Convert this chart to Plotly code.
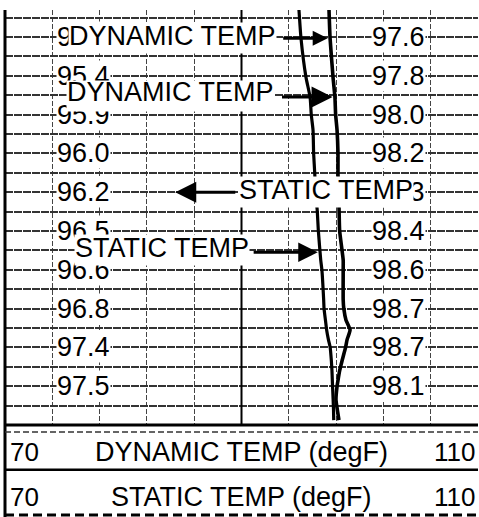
import plotly.graph_objects as go

# ---------------- data ----------------
# depth in grid divisions (increasing downward)
depth = [-0.39, 1.06, 3.07, 4.1, 5.0, 5.8, 7.0, 8.1, 9.0, 9.9, 11.0, 12.5, 13.0,
         14.56, 15.0, 15.6, 16.1, 16.6, 17.0, 17.7, 18.2, 18.7, 19.0, 19.7, 20.2, 20.75]
static_temp = [94.86, 95.03, 95.45, 95.80, 95.90, 96.05, 96.10, 96.20, 96.25, 96.40, 96.50, 96.70, 96.80,
               96.95, 96.98, 97.10, 97.20, 97.35, 97.50, 97.60, 97.65, 97.68, 97.70, 97.75, 97.78, 97.80]
dynamic_temp = [97.40, 97.49, 97.74, 97.90, 97.96, 98.08, 98.16, 98.16, 98.20, 98.25, 98.30, 98.60, 98.60,
                98.60, 98.65, 98.84, 99.18, 98.93, 98.80, 98.50, 98.30, 98.16, 98.08, 97.99, 98.10, 98.24]

label_depths = [1, 3, 5, 7, 9, 11, 13, 15, 17, 19]
left_labels = ["95.0", "95.4", "95.9", "96.0", "96.2", "96.5", "96.6", "96.8", "97.4", "97.5"]
right_labels = ["97.6", "97.8", "98.0", "98.2", "98.3", "98.4", "98.6", "98.7", "98.7", "98.1"]

scale_min, scale_max = 70, 110
header_tracks = ["DYNAMIC TEMP (degF)", "STATIC TEMP (degF)"]

FONT = "Liberation Sans, Arial, sans-serif"
FS = 27

def dval(series, d):
    # value of a read series at depth d (for arrow tips)
    for i in range(len(depth) - 1):
        if depth[i] <= d <= depth[i + 1]:
            t = (d - depth[i]) / (depth[i + 1] - depth[i])
            return series[i] + t * (series[i + 1] - series[i])
    return series[-1]

fig = go.Figure()
fig.add_trace(go.Scatter(x=static_temp, y=depth, mode="lines",
                         line=dict(color="black", width=3.2, shape="spline", smoothing=0.5),
                         hoverinfo="skip", showlegend=False))
fig.add_trace(go.Scatter(x=dynamic_temp, y=depth, mode="lines",
                         line=dict(color="black", width=3.6, shape="spline", smoothing=0.5),
                         hoverinfo="skip", showlegend=False))

ann = []
LX, RX = 76.6, 103.3
for d, lt, rt in zip(label_depths, left_labels, right_labels):
    for xx, tt in ((LX, lt), (RX, rt)):
        ann.append(dict(x=xx, y=d, xref="x", yref="y", text=tt, showarrow=False,
                        font=dict(family=FONT, size=FS, color="black"),
                        bgcolor="white", borderpad=0, xanchor="center", yanchor="middle"))

# (text, x, depth of text centre, mask shift in px)
callouts = [
    ("DYNAMIC TEMP", 75.35, 0.95, -2),
    ("DYNAMIC TEMP", 75.20, 3.85, -4),
    ("STATIC TEMP", 89.70, 8.89, -2),
    ("STATIC TEMP", 75.83, 11.88, -2),
]
# white masks (slightly lower than the text) first, then the texts themselves
for t, xx, d, sh in callouts:
    ann.append(dict(x=xx, y=d, xref="x", yref="y", text=t, showarrow=False,
                    font=dict(family=FONT, size=FS, color="white"),
                    bgcolor="white", borderpad=0, xanchor="left", yanchor="middle", yshift=sh))
for t, xx, d, sh in callouts:
    ann.append(dict(x=xx, y=d, xref="x", yref="y", text=t, showarrow=False,
                    font=dict(family=FONT, size=FS, color="black"),
                    borderpad=0, xanchor="left", yanchor="middle"))

# arrows: (tail_x, depth, tip_x, size)
arrows = [
    (93.4, 1.06, dval(dynamic_temp, 1.06) - 0.2, 1.0),
    (93.3, 4.1, dval(dynamic_temp, 4.1) - 0.2, 1.4),
    (89.6, 9.0, 84.4, 1.4),
    (90.9, 12.1, dval(static_temp, 12.1) - 0.2, 1.3),
]
for ax_, d, tip, sz in arrows:
    ann.append(dict(x=tip, y=d, ax=ax_, ay=d, xref="x", yref="y", axref="x", ayref="y",
                    text="", showarrow=True, arrowhead=2, arrowsize=sz, arrowwidth=3,
                    arrowcolor="black", standoff=0, startstandoff=0))

# header
H1, H2 = -0.065, -0.173
HF = 26
for yy, title in zip((H1, H2), header_tracks):
    ann.append(dict(x=0.007, y=yy, xref="paper", yref="paper", text=str(scale_min), showarrow=False,
                    font=dict(family=FONT, size=HF, color="black"), xanchor="left", yanchor="middle"))
    ann.append(dict(x=0.9975, y=yy, xref="paper", yref="paper", text=str(scale_max), showarrow=False,
                    font=dict(family=FONT, size=HF, color="black"), xanchor="right", yanchor="middle"))
    ann.append(dict(x=0.5, y=yy, xref="paper", yref="paper", text=title, showarrow=False,
                    font=dict(family=FONT, size=HF + 1, color="black"), xanchor="center", yanchor="middle"))

shapes = [
    dict(type="line", xref="paper", yref="paper", x0=0, x1=0, y0=-0.23, y1=1,
         line=dict(color="black", width=3)),
    dict(type="line", xref="x", yref="paper", x0=90, x1=90, y0=0, y1=1,
         line=dict(color="black", width=2)),
    dict(type="line", xref="paper", yref="paper", x0=0, x1=1, y0=0, y1=0,
         line=dict(color="black", width=3)),
    dict(type="line", xref="paper", yref="paper", x0=0, x1=1, y0=-0.017, y1=-0.017,
         line=dict(color="#333", width=1.5, dash="6px,3px")),
    dict(type="line", xref="paper", yref="paper", x0=0, x1=1, y0=-0.108, y1=-0.108,
         line=dict(color="black", width=2.5)),
    dict(type="line", xref="paper", yref="paper", x0=0, x1=1, y0=-0.217, y1=-0.217,
         line=dict(color="black", width=3, dash="9px,5px")),
]

fig.update_layout(
    width=479, height=517,
    margin=dict(l=5, r=1, t=10, b=92, pad=0),
    paper_bgcolor="white", plot_bgcolor="white",
    showlegend=False,
    annotations=ann, shapes=shapes,
    xaxis=dict(range=[scale_min, scale_max], tick0=70, dtick=4, showgrid=True,
               gridcolor="#444", gridwidth=1, griddash="5px,2px",
               showticklabels=False, ticks="", zeroline=False, showline=False, fixedrange=True),
    yaxis=dict(range=[21.0, -0.39], tick0=0, dtick=1, showgrid=True,
               gridcolor="#333", gridwidth=1.5, griddash="8px,1px",
               showticklabels=False, ticks="", zeroline=False, showline=False, fixedrange=True),
)

fig.write_html("out.html", config={"displayModeBar": False},
               post_script="document.body.style.margin='0';document.body.style.overflow='hidden';")
